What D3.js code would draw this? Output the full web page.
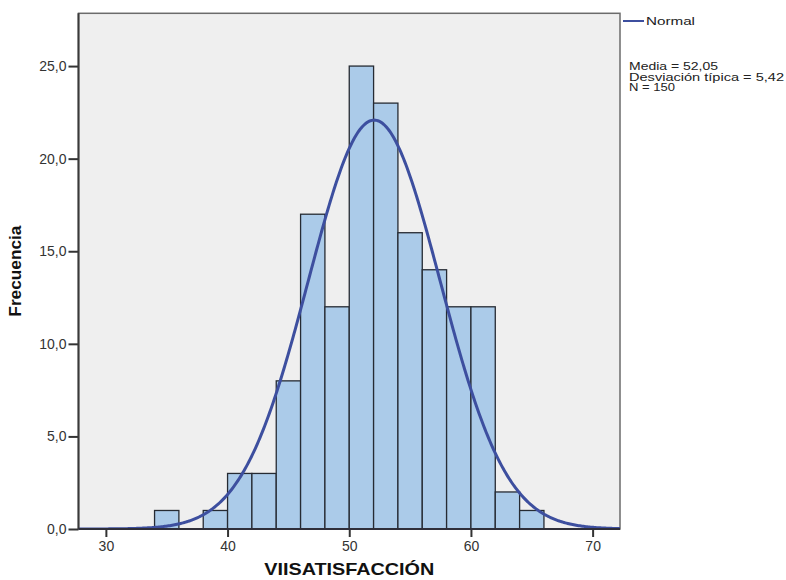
<!DOCTYPE html>
<html>
<head>
<meta charset="utf-8">
<script src="https://cdn.jsdelivr.net/npm/d3@7"></script>
<style>
  body { margin: 0; background: #fff; }
  svg text { font-family: 'Liberation Sans', Arial, sans-serif; }
</style>
</head>
<body>
<div id="chart"></div>
<script>
// histogram bins (lower edge, width 2) and counts
let binStarts = [34, 36, 38, 40, 42, 44, 46, 48, 50, 52, 54, 56, 58, 60, 62, 64]
let counts = [1, 0, 1, 3, 3, 8, 17, 12, 25, 23, 16, 14, 12, 12, 2, 1]
let binWidth = 2
let xTicks = [30, 40, 50, 60, 70]
let yTicks = [0, 5, 10, 15, 20, 25]
// statistics shown in the legend, used for the normal curve
let media = 52.05
let desv = 5.42
let n = 150
let statLines = ['Media = 52,05', 'Desviación típica = 5,42', 'N = 150']

let width = 786
let height = 580
let plot = { left: 78.5, right: 620, top: 13.3, bottom: 529 }

let svg = d3.select('#chart').append('svg')
  .attr('width', width)
  .attr('height', height)

let x = d3.scaleLinear().domain([27.75, 72.25]).range([plot.left, plot.right])
let y = d3.scaleLinear().domain([0, 27.85]).range([plot.bottom, plot.top])

// plot background
svg.append('rect')
  .attr('x', plot.left).attr('y', plot.top)
  .attr('width', plot.right - plot.left).attr('height', plot.bottom - plot.top)
  .attr('fill', '#efefef')
  .attr('stroke', '#6b6b6b')
  .attr('stroke-width', 1.5)

let clip = svg.append('clipPath').attr('id', 'clip')
clip.append('rect')
  .attr('x', plot.left).attr('y', plot.top)
  .attr('width', plot.right - plot.left).attr('height', plot.bottom - plot.top)

let bars = binStarts.map((s, i) => ({ x0: s, x1: s + binWidth, c: counts[i] })).filter(d => d.c > 0)

svg.append('g')
  .selectAll('rect')
  .data(bars)
  .enter().append('rect')
  .attr('x', d => x(d.x0))
  .attr('y', d => y(d.c))
  .attr('width', d => x(d.x1) - x(d.x0))
  .attr('height', d => y(0) - y(d.c))
  .attr('fill', '#abcbe9')
  .attr('stroke', '#262b33')
  .attr('stroke-width', 1.3)

// fitted normal curve from the legend's mean, sd and N
let curveX = d3.range(27.75, 72.3, 0.1)
let curvePts = curveX.map(v => [v, n * binWidth * Math.exp(-0.5 * Math.pow((v - media) / desv, 2)) / (desv * Math.sqrt(2 * Math.PI))])

svg.append('path')
  .datum(curvePts)
  .attr('clip-path', 'url(#clip)')
  .attr('fill', 'none')
  .attr('stroke', '#3d4f9f')
  .attr('stroke-width', 3)
  .attr('d', d3.line().x(d => x(d[0])).y(d => y(d[1])))

let fmt = d => d.toFixed(1).replace('.', ',')

let yAxis = svg.append('g')
  .attr('transform', 'translate(' + plot.left + ',0)')
  .call(d3.axisLeft(y).tickValues(yTicks).tickFormat(fmt).tickSize(10).tickPadding(2))
let xAxis = svg.append('g')
  .attr('transform', 'translate(0,' + plot.bottom + ')')
  .call(d3.axisBottom(x).tickValues(xTicks).tickFormat(d3.format('d')).tickSize(8).tickPadding(4))

;[yAxis, xAxis].forEach(a => {
  a.select('.domain').remove()
  a.selectAll('line').attr('stroke', '#333').attr('stroke-width', 2)
  a.selectAll('text').attr('fill', '#333').style('font-size', '14px')
})

// axis lines drawn over the frame
svg.append('line')
  .attr('x1', plot.left).attr('x2', plot.left)
  .attr('y1', plot.top).attr('y2', plot.bottom)
  .attr('stroke', '#3a3a3a').attr('stroke-width', 2)
svg.append('line')
  .attr('x1', plot.left).attr('x2', plot.right)
  .attr('y1', plot.bottom).attr('y2', plot.bottom)
  .attr('stroke', '#2f2f3a').attr('stroke-width', 2)

// axis titles
svg.append('text')
  .attr('transform', 'translate(21,' + ((plot.top + plot.bottom) / 2) + ') rotate(-90)')
  .attr('text-anchor', 'middle')
  .attr('font-weight', 'bold')
  .attr('font-size', 17)
  .attr('fill', '#111')
  .attr('textLength', 91)
  .attr('lengthAdjust', 'spacingAndGlyphs')
  .text('Frecuencia')

svg.append('text')
  .attr('x', (plot.left + plot.right) / 2)
  .attr('y', 575)
  .attr('text-anchor', 'middle')
  .attr('font-weight', 'bold')
  .attr('font-size', 17)
  .attr('fill', '#111')
  .attr('textLength', 170)
  .attr('lengthAdjust', 'spacingAndGlyphs')
  .text('VIISATISFACCIÓN')

// legend
svg.append('line')
  .attr('x1', 623).attr('x2', 644)
  .attr('y1', 21).attr('y2', 21)
  .attr('stroke', '#3d4f9f').attr('stroke-width', 2)
svg.append('text')
  .attr('x', 646).attr('y', 25)
  .attr('font-size', 10.5)
  .attr('fill', '#222')
  .attr('textLength', 49)
  .attr('lengthAdjust', 'spacingAndGlyphs')
  .text('Normal')

let statLengths = [89, 155, 46]
svg.append('g')
  .selectAll('text')
  .data(statLines)
  .enter().append('text')
  .attr('x', 629)
  .attr('y', (d, i) => 70 + i * 10.5)
  .attr('font-size', 10.5)
  .attr('fill', '#222')
  .attr('textLength', (d, i) => statLengths[i])
  .attr('lengthAdjust', 'spacingAndGlyphs')
  .text(d => d)
</script>
</body>
</html>
